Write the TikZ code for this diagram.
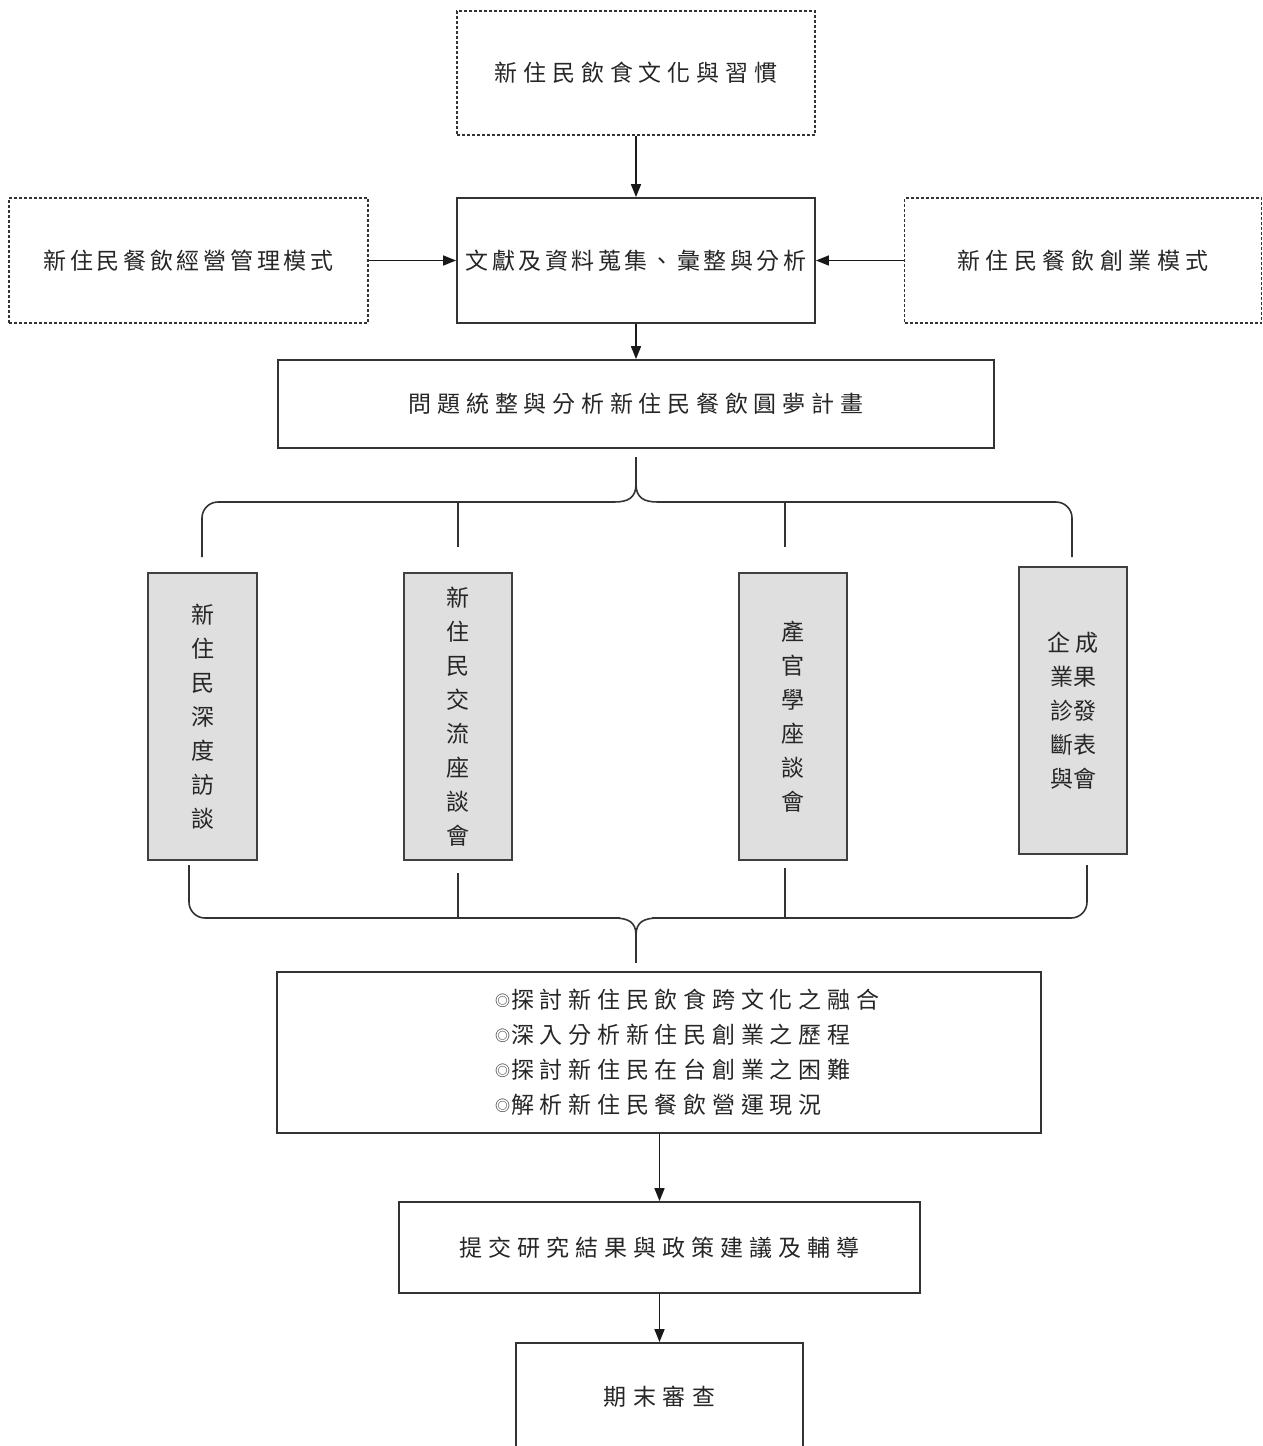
\documentclass[tikz,border=0pt]{standalone}
\usepackage{fontspec}
\newfontfamily\cjk{Noto Sans CJK TC}
\usetikzlibrary{arrows.meta}
\newcommand\lsp[1]{\addfontfeature{LetterSpace=#1}}
\newcommand\smallbullet{{\fontsize{15}{15}\selectfont\raisebox{1.5pt}{◎}}\hspace{1pt}}
\tikzset{
  dbox/.style={draw=black!80, line width=1.4pt, dash pattern=on 3pt off 2pt, inner sep=0pt, text=black!85},
  sbox/.style={draw=black!80, line width=1.8pt, inner sep=0pt, text=black!85},
  gbox/.style={draw=black!75, fill=gray!25, line width=1.8pt, inner sep=0pt, text=black!85, align=center},
  arr/.style={-{Triangle[length=13pt,width=10pt]}, line width=1.6pt, draw=black!90},
  ln/.style={line width=1.6pt, draw=black!80},
  lbl/.style={font=\cjk\fontsize{23}{27}\selectfont},
  vlbl/.style={font=\cjk\fontsize{23}{34}\selectfont}
}
\begin{document}
\begin{tikzpicture}[x=1pt,y=-1pt]
\useasboundingbox (0,0) rectangle (1263,1446);
\begin{scope}
\clip (0,0) rectangle (1263,1446);
% top row
\node[dbox, lbl, minimum width=358pt, minimum height=124pt] (top) at (636,73) {\lsp{26}新住民飲食文化與習慣};
\node[dbox, lbl, minimum width=359pt, minimum height=125pt] (left) at (188.5,260.5) {\lsp{16}新住民餐飲經營管理模式};
\node[sbox, lbl, minimum width=358pt, minimum height=125pt] (mid) at (636,260.5) {\lsp{15}文獻及資料蒐集、彙整與分析};
\node[dbox, lbl, minimum width=357pt, minimum height=125pt] (right) at (1083,260.5) {\lsp{24}新住民餐飲創業模式};
\node[sbox, lbl, minimum width=716pt, minimum height=88pt] (plan) at (636,404) {\lsp{25}問題統整與分析新住民餐飲圓夢計畫};

\draw[arr] (top) -- (mid);
\draw[arr] (left) -- (mid);
\draw[arr] (right) -- (mid);
\draw[arr] (mid) -- (plan);

% vertical boxes
\node[gbox, vlbl, minimum width=109pt, minimum height=287pt] (b1) at (202.5,716.5) {新\\住\\民\\深\\度\\訪\\談};
\node[gbox, vlbl, minimum width=108pt, minimum height=287pt] (b2) at (458,716.5) {新\\住\\民\\交\\流\\座\\談\\會};
\node[gbox, vlbl, minimum width=108pt, minimum height=287pt] (b3) at (793,716.5) {產\\官\\學\\座\\談\\會};
\node[gbox, vlbl, minimum width=108pt, minimum height=287pt] (b4) at (1073,710.5) {\lsp{22}企成\\業果\\診發\\斷表\\與會};

% upper brace
\coordinate (ub) at (636,457);
\coordinate (ubc) at (636,484);
\coordinate (c1) at (202,557);
\coordinate (c2) at (458,547);
\coordinate (c3) at (785,547);
\coordinate (c4) at (1072,557);
\draw[ln] (ub) -- (ubc);
\draw[ln] (ubc) .. controls (636,498) and (628,502) .. (614,502) [rounded corners=16pt] -- (202,502) -- (c1);
\draw[ln] (ubc) .. controls (636,498) and (644,502) .. (658,502) [rounded corners=16pt] -- (1072,502) -- (c4);
\draw[ln] (458,502) -- (c2);
\draw[ln] (785,502) -- (c3);

% lower brace
\coordinate (d1) at (189,865);
\coordinate (d2) at (458,873);
\coordinate (d3) at (785,868);
\coordinate (d4) at (1087,865);
\coordinate (lbc) at (636,935);
\coordinate (lb) at (636,963);
\draw[ln, rounded corners=16pt] (d1) -- (189,918) -- (620,918);
\draw[ln] (614,918) .. controls (628,918) and (636,922) .. (lbc);
\draw[ln, rounded corners=16pt] (d4) -- (1087,918) -- (652,918);
\draw[ln] (658,918) .. controls (644,918) and (636,922) .. (lbc);
\draw[ln] (lbc) -- (lb);
\draw[ln] (d2) -- (458,918);
\draw[ln] (d3) -- (785,918);

% results box
\node[sbox, minimum width=764pt, minimum height=161pt] (res) at (659,1052.5) {};
\node[anchor=west, align=left, font=\cjk\fontsize{23}{35}\selectfont, text=black!85, inner sep=0pt] (restext) at (495,1052) {\smallbullet\lsp{25}探討新住民飲食跨文化之融合\\\smallbullet\lsp{25}深入分析新住民創業之歷程\\\smallbullet\lsp{25}探討新住民在台創業之困難\\\smallbullet\lsp{25}解析新住民餐飲營運現況};

\node[sbox, lbl, minimum width=521pt, minimum height=91pt] (sub) at (659.5,1247.5) {\lsp{26}提交研究結果與政策建議及輔導};
\node[sbox, lbl, minimum width=287pt, minimum height=108pt] (fin) at (659.5,1397) {\lsp{30}期末審查};

\draw[arr] (res.south -| sub.north) -- (sub.north);
\draw[arr] (sub) -- (fin);
\end{scope}
\end{tikzpicture}
\end{document}
